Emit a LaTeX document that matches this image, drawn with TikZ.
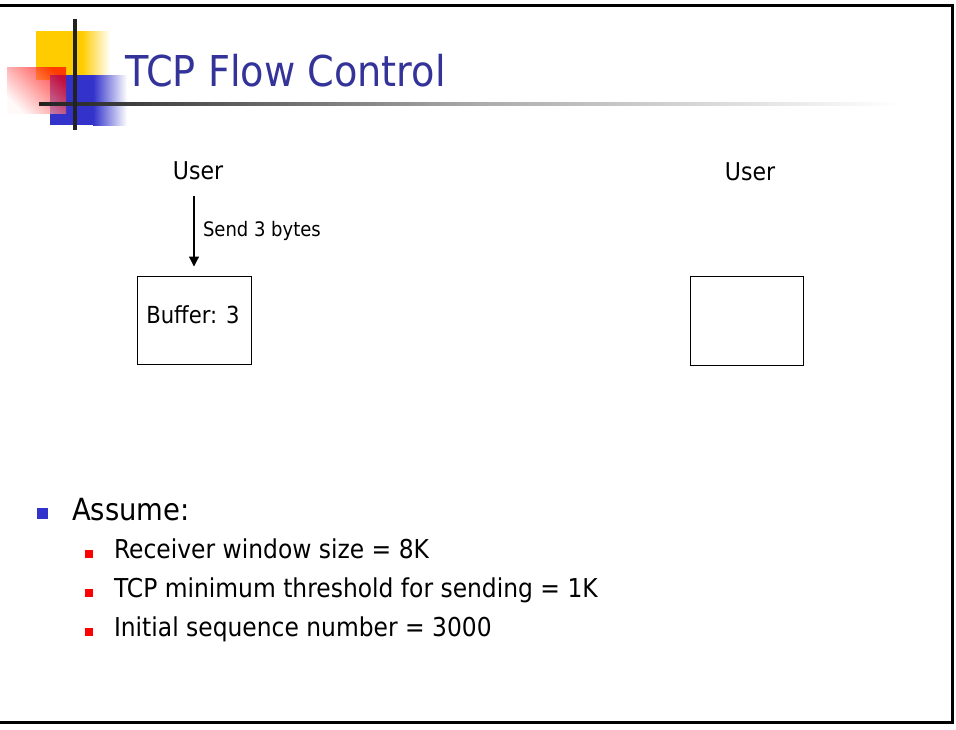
\documentclass[tikz,border=0pt]{standalone}
\usepackage{fontspec}
\setmainfont{DejaVu Sans}[FakeStretch=0.9]
\usetikzlibrary{arrows.meta}
\definecolor{titleblue}{RGB}{51,51,153}
\definecolor{logoyellow}{RGB}{255,204,0}
\definecolor{logoblue}{RGB}{51,51,204}
\definecolor{bulletred}{RGB}{255,0,0}
\definecolor{logoline}{RGB}{34,34,34}
\tikzset{
  plain/.style={inner sep=0pt, outer sep=0pt},
  txt/.style={plain, anchor=base west},
  buffbox/.style={draw, line width=1pt, inner sep=0pt, minimum width=114pt, minimum height=88pt},
  bulletA/.style={plain, fill=logoblue, minimum size=10.5pt},
  bulletB/.style={plain, fill=bulletred, minimum size=8.5pt},
  sizeA/.style={font=\fontsize{30.5}{36}\selectfont},
  sizeB/.style={font=\fontsize{26}{31}\selectfont},
}
\begin{document}
\begin{tikzpicture}[x=1pt,y=-1pt]
\useasboundingbox (0,0) rectangle (956,729);
% logo
\fill[logoyellow] (36,31) rectangle (82,80);
\shade[left color=logoyellow, right color=white] (82,31) rectangle (110,80);
\fill[logoblue] (50,75) rectangle (93,125);
\shade[left color=logoblue, right color=white] (93,75) rectangle (127,125);
\shade[top color=red, bottom color=red!3, shading angle=-45, fill opacity=0.7] (7,67) rectangle (66,113);
\shade[left color=logoline, right color=black!33] (39,102.5) rectangle (480,105.5);
\shade[left color=black!33, right color=white] (480,102.5) rectangle (900,105.5);
\draw[logoline, line width=4pt] (75,19) -- (75,130);
% frame
\draw[line width=3pt] (0,5.5) -- (952.5,5.5) -- (952.5,722.5) -- (0,722.5);
% title
\node[txt, text=titleblue, font=\fontsize{42.5}{50}\selectfont] (title) at (125,86) {TCP Flow Control};
% users
\node[plain, anchor=base, font=\fontsize{24.5}{28}\selectfont] (userL) at (198,179) {User};
\node[plain, anchor=base, font=\fontsize{24.5}{28}\selectfont] (userR) at (750,180) {User};
% buffers
\node[buffbox] (bufL) at (194,320) {};
\node[plain, anchor=base, font=\fontsize{23.5}{28}\selectfont] (buftxt) at (193,323) {Buffer: 3};
\node[buffbox, minimum width=113pt, minimum height=89pt] (bufR) at (746.5,320.5) {};
% arrow
\draw[line width=1.2pt, -{Triangle[width=10pt,length=10pt]}, shorten <=17pt, shorten >=9pt] (userL.south -| bufL.north) -- (bufL.north);
\node[txt, font=\fontsize{20}{24}\selectfont] (send) at (203,236) {Send 3 bytes};
% bullets
\node[bulletA] (b0) at (42.5,513.5) {};
\node[txt, sizeA] (assume) at (72,520) {Assume:};
\node[bulletB] (b1) at (89,554) {};
\node[txt, sizeB] (t1) at (114,558) {Receiver window size = 8K};
\node[bulletB] (b2) at (89,593) {};
\node[txt, sizeB] (t2) at (114,597) {TCP minimum threshold for sending = 1K};
\node[bulletB] (b3) at (89,632) {};
\node[txt, sizeB] (t3) at (114,636) {Initial sequence number = 3000};
\end{tikzpicture}
\end{document}
